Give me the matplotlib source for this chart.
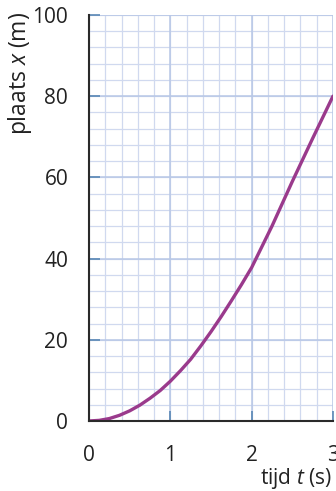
import matplotlib
matplotlib.use("Agg")
import matplotlib.pyplot as plt
import numpy as np

fam = 'Open Sans'
plt.rcParams['font.family'] = [fam, 'DejaVu Sans']
plt.rcParams['mathtext.fontset'] = 'custom'
plt.rcParams['mathtext.rm'] = fam
plt.rcParams['mathtext.it'] = fam + ':italic'

# data
t_values = [0, 0.125, 0.25, 0.375, 0.5, 0.625, 0.75, 0.875, 1.0, 1.125, 1.25, 1.375,
            1.5, 1.625, 1.75, 1.875, 2.0, 2.125, 2.25, 2.375, 2.5, 2.625, 2.75, 2.875, 3.0]
x_values = [0, 0.15, 0.6, 1.4, 2.5, 3.9, 5.6, 7.5, 9.8, 12.4, 15.2, 18.5,
            22.0, 25.7, 29.6, 33.6, 37.8, 42.9, 48.0, 53.5, 59.0, 64.3, 69.6, 74.8, 80.0]
x_ticks = [0, 1, 2, 3]
y_ticks = [0, 20, 40, 60, 80, 100]

fig = plt.figure(figsize=(3.36, 4.91), dpi=100)
ax = fig.add_axes([0.265, 0.1426, 0.726, 0.8269])
ax.set_xlim(0, 3)
ax.set_ylim(0, 100)

minor_c = '#d0d9ef'
major_c = '#b8c8e6'
for v in np.arange(0, 3.001, 0.2):
    ax.axvline(v, color=minor_c, lw=0.9, zorder=0)
for v in np.arange(0, 100.001, 4):
    ax.axhline(v, color=minor_c, lw=0.9, zorder=0)
for v in x_ticks:
    ax.axvline(v, color=major_c, lw=1.1, zorder=0)
for v in y_ticks:
    ax.axhline(v, color=major_c, lw=1.1, zorder=0)

ax.plot(t_values, x_values, color='#9a3a8c', lw=2.4, solid_capstyle='round',
        solid_joinstyle='round', zorder=3)

for s in ['top', 'right']:
    ax.spines[s].set_visible(False)
for s in ['left', 'bottom']:
    ax.spines[s].set_color('#2a2a2a')
    ax.spines[s].set_linewidth(1.5)
    ax.spines[s].set_zorder(4)

ax.set_xticks(x_ticks)
ax.set_yticks(y_ticks)
ax.tick_params(axis='both', direction='in', color='#5a88b5', width=1.2, labelsize=15,
               labelcolor='#222222')
ax.tick_params(axis='y', length=8, pad=15)
ax.tick_params(axis='x', length=7, pad=17)

fig.text(20 / 336, 1 - 12 / 491, 'plaats $x$ (m)', fontsize=16.5, color='#222222',
         rotation=90, ha='center', va='top')
fig.text(332 / 336, 7 / 491, 'tijd $t$ (s)', fontsize=15, color='#222222',
         ha='right', va='baseline')

fig.savefig('out.png', dpi=100)
